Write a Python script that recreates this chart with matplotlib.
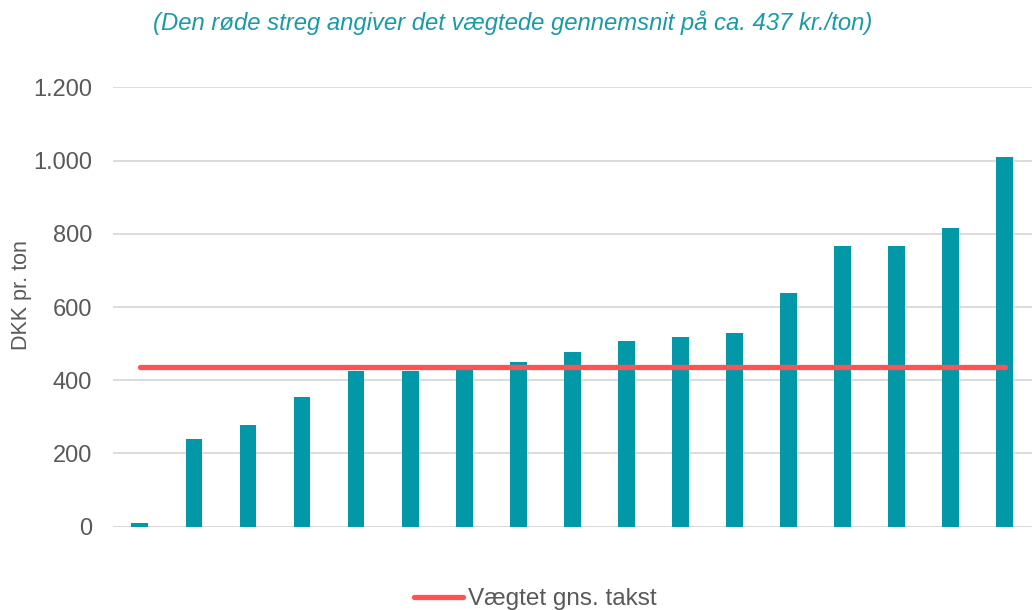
import numpy as np
import matplotlib.pyplot as plt

plt.rcParams['font.family'] = ['Liberation Sans', 'DejaVu Sans']

# bar values (DKK pr. ton), sorted ascending as in the chart
takst = [11, 240, 279, 354, 425, 425, 433, 450, 476, 506, 517, 530, 639, 768, 768, 815, 1009]
gns = 437
yticks = [0, 200, 400, 600, 800, 1000, 1200]
ylabels = ['0', '200', '400', '600', '800', '1.000', '1.200']

teal = '#0398A8'
red = '#FF5353'
grey = '#595959'

fig = plt.figure(figsize=(10.35, 6.1), dpi=100)
ax = fig.add_axes([0.109, 0.1366, 0.888, 0.72])

x = np.arange(len(takst))
ax.bar(x, takst, width=0.31, color=teal, zorder=2)
ax.plot([x[0], x[-1]], [gns, gns], color=red, lw=3.8, solid_capstyle='round',
        zorder=3, label='Vægtet gns. takst')

ax.set_xlim(-0.5, len(takst) - 0.5)
ax.set_ylim(0, 1200)
ax.set_yticks(yticks)
ax.set_yticklabels(ylabels)
ax.set_xticks([])
ax.tick_params(axis='y', length=0, pad=15, labelsize=17, labelcolor=grey)
ax.grid(axis='y', color='#D9D9D9', lw=1.3, zorder=0)
for s in ['top', 'right', 'left', 'bottom']:
    ax.spines[s].set_visible(False)
ax.axhline(0, color='#D9D9D9', lw=1.3, zorder=1)

fig.text(0.021, 0.516, 'DKK pr. ton', rotation=90, ha='center', va='center',
         fontsize=15.5, color=grey)

fig.text(0.495, 0.962, '(Den røde streg angiver det vægtede gennemsnit på ca. 437 kr./ton)',
         ha='center', va='center', fontsize=17.2, style='italic', color='#1A9AA8')

fig.legend(loc='center', bbox_to_anchor=(0.517, 0.018), frameon=False, fontsize=17.5,
           labelcolor=grey, handlelength=2.0, handletextpad=0.2)

fig.savefig('out.png', dpi=100)
